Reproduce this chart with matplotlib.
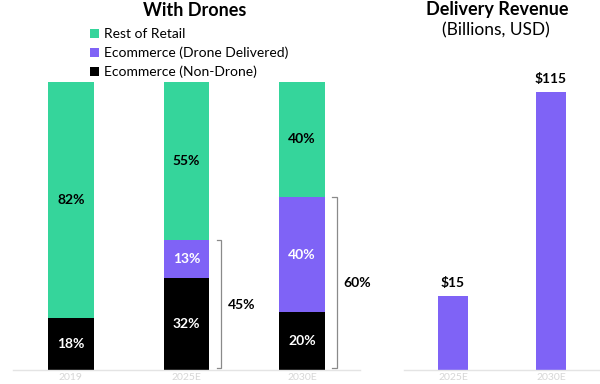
import matplotlib
matplotlib.use("Agg")
import matplotlib.pyplot as plt
import numpy as np

plt.rcParams["font.family"] = ["Lato", "DejaVu Sans"]

GREEN = "#35D59B"
PURPLE = "#7F63F6"
BLACK = "#000000"
GRAY = "#8a8a8a"
LIGHT = "#e4e4e4"

# ---------------------------------------------------------------------------
# Data
# ---------------------------------------------------------------------------
share_years = ["2019", "2025E", "2030E"]
non_drone = [18, 32, 20]
drone = [0, 13, 40]
rest_retail = [82, 55, 40]

revenue_years = ["2025E", "2030E"]
revenue = [15, 115]

# ---------------------------------------------------------------------------
# Figure
# ---------------------------------------------------------------------------
fig = plt.figure(figsize=(6, 3.84), dpi=100)
ax1 = fig.add_axes([13 / 600, 14 / 384, 347 / 600, 288.5 / 384])
ax2 = fig.add_axes([404 / 600, 14 / 384, 196 / 600, 288.5 / 384])

# left: stacked share of retail
x1 = np.arange(len(share_years))
w1 = 0.397
bottom_rest = [a + b for a, b in zip(non_drone, drone)]
b_nd = ax1.bar(x1, non_drone, w1, color=BLACK)
b_d = ax1.bar(x1, drone, w1, bottom=non_drone, color=PURPLE)
b_r = ax1.bar(x1, rest_retail, w1, bottom=bottom_rest, color=GREEN)

for i in x1:
    segs = [(non_drone[i], 0, "white"),
            (drone[i], non_drone[i], "white"),
            (rest_retail[i], bottom_rest[i], BLACK)]
    for val, bot, col in segs:
        if val > 0:
            ax1.text(i, bot + val / 2, f"{val}%", ha="center", va="center",
                     color=col, fontsize=10, fontweight="bold")

# brackets for total ecommerce once drones show up
for i in x1:
    if drone[i] == 0:
        continue
    total = non_drone[i] + drone[i]
    xl = i + 0.30
    xt = i + 0.26
    ax1.plot([xt, xl, xl, xt], [total, total, 0.8, 0.8], color=GRAY, lw=0.9,
             solid_joinstyle="miter")
    ax1.text(xl + 0.055, total / 2, f"{total}%", ha="left", va="center",
             fontsize=10, fontweight="bold", color=BLACK)

ax1.set_xlim(-0.5, 2.5)
ax1.set_ylim(0, 100)

# right: revenue (bars not to linear scale in the source, log axis mimics it)
x2 = np.arange(len(revenue_years))
ax2.bar(x2, revenue, 0.306, color=PURPLE)
ax2.set_yscale("log")
ax2.set_ylim(7.17, 127.7)
ax2.set_xlim(-0.5, 1.5)
for i, v in zip(x2, revenue):
    ax2.annotate(f"${v}", (i, v), xytext=(0, 5), textcoords="offset points",
                 ha="center", va="bottom", fontsize=10, fontweight="bold")

for ax, labels in ((ax1, share_years), (ax2, revenue_years)):
    for s in ("top", "left", "right"):
        ax.spines[s].set_visible(False)
    ax.spines["bottom"].set_color(LIGHT)
    ax.spines["bottom"].set_linewidth(1)
    ax.set_yticks([])
    ax.set_yticks([], minor=True)
    ax.set_xticks(range(len(labels)))
    ax.set_xticklabels(labels)
    ax.tick_params(axis="x", length=0, pad=2, labelsize=7.5, labelcolor="#d6d6d6")

# titles
fig.text(195 / 600, 1 - 10 / 384, "With Drones", ha="center", va="center",
         fontsize=13, fontweight="bold")
fig.text(497 / 600, 1 - 10 / 384, "Delivery Revenue", ha="center", va="center",
         fontsize=13, fontweight="bold")
fig.text(496 / 600, 1 - 30 / 384, "(Billions, USD)", ha="center", va="center",
         fontsize=12.5)

# legend
fig.legend(handles=[b_r, b_d, b_nd],
           labels=["Rest of Retail", "Ecommerce (Drone Delivered)", "Ecommerce (Non-Drone)"],
           loc="upper left", bbox_to_anchor=(90 / 600, 1 - 28.5 / 384),
           frameon=False, fontsize=10, handlelength=0.65, handleheight=0.65,
           handletextpad=0.35, labelspacing=0.45, borderaxespad=0, borderpad=0)

fig.savefig("out.png", dpi=100, facecolor="white")
